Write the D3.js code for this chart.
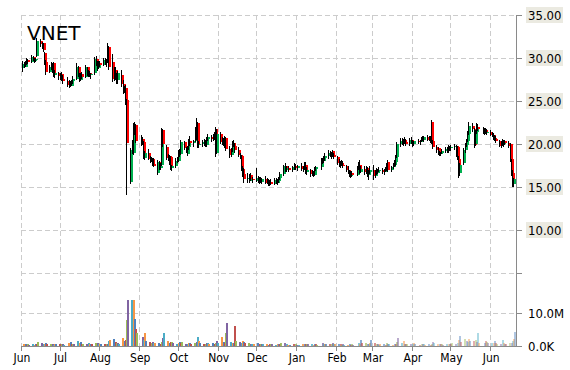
<!DOCTYPE html>
<html><head><meta charset="utf-8">
<script src="https://cdn.jsdelivr.net/npm/d3@7"></script>
<style>body{margin:0;background:#fff}svg{display:block}</style>
</head><body>
<svg id="c" width="570" height="370"></svg>
<script>
// rows: [day, open, high, low, close, volume (millions)]
const jun14 = [[2,28.8,29.6,28.4,29.3,0.7],[3,29.3,29.5,28.8,29.0,0.5],[4,29.0,29.7,28.9,29.5,0.4],[5,29.5,30.0,29.2,29.8,0.6],[6,29.8,29.9,29.3,29.5,0.4],[9,29.5,30.3,29.4,30.1,0.5],[10,30.1,30.2,29.6,29.7,0.4],[11,29.7,30.0,29.4,29.8,0.6],[12,29.8,30.0,29.5,29.9,0.5],[13,30.2,32.3,30.1,32.0,1.1],[16,32.0,32.2,31.3,31.6,0.8],[17,31.6,31.9,31.0,31.2,0.6],[18,31.7,31.8,30.7,30.9,0.7],[19,30.6,30.7,29.2,29.5,0.9],[20,29.5,29.8,28.0,28.4,0.6],[23,28.4,29.2,28.2,29.0,0.5],[24,29.0,29.5,28.6,28.9,0.6],[25,28.9,29.4,28.3,29.2,0.4],[26,29.4,29.5,27.8,28.0,0.7],[27,28.0,28.6,27.7,28.3,0.5],[30,28.3,28.4,27.5,27.9,0.6]];
const jul14 = [[1,27.7,28.3,27.5,28.1,0.5],[2,28.1,28.4,27.3,27.6,0.6],[3,27.6,28.0,27.0,27.3,0.3],[7,27.3,27.8,26.6,26.9,0.8],[8,26.9,27.4,26.5,27.1,1.3],[9,27.1,27.3,26.6,26.8,0.6],[10,26.8,27.5,26.7,27.3,0.5],[11,27.3,27.9,27.0,27.6,0.7],[14,27.6,29.4,27.4,29.0,1.6],[15,29.0,29.1,27.8,28.0,0.9],[16,28.0,28.2,27.2,27.5,1.2],[17,27.5,28.3,27.3,28.1,0.6],[18,28.1,28.4,27.6,27.8,0.7],[21,27.8,29.2,27.7,28.9,0.5],[22,28.9,29.0,27.9,28.1,0.9],[23,28.1,28.6,27.8,28.3,0.6],[24,28.3,28.5,27.8,28.0,0.5],[25,28.0,28.3,27.6,28.1,0.7],[28,28.2,30.1,28.0,29.9,1.0],[29,29.9,30.2,29.1,29.3,0.8],[30,29.3,29.6,28.5,28.8,0.5],[31,28.8,29.6,28.7,29.4,0.7]];
const aug14 = [[1,29.4,29.6,29.0,29.2,0.5],[4,29.2,30.0,29.1,29.8,0.6],[5,29.8,30.0,29.2,29.4,0.5],[6,29.4,29.9,29.0,29.6,0.7],[7,29.6,31.7,29.4,31.3,1.6],[8,31.3,31.4,28.6,29.0,1.8],[11,29.5,30.5,27.2,27.6,2.1],[12,27.6,29.0,27.3,28.6,1.3],[13,28.6,28.9,27.5,28.0,0.9],[14,28.0,28.3,27.0,27.4,0.8],[15,27.4,28.5,27.0,28.2,0.7],[18,28.0,28.6,26.6,27.0,2.3],[19,27.0,27.4,25.8,26.2,1.5],[20,26.2,26.8,25.9,26.5,1.9],[21,26.5,26.9,24.5,25.1,7.9],[22,25.1,25.2,14.1,20.1,13.9],[25,15.6,19.5,15.3,19.3,13.9],[26,19.3,20.5,18.8,20.2,13.9],[27,19.0,22.5,18.7,21.4,8.2],[28,21.4,22.6,21.0,22.2,5.2],[29,22.2,22.3,20.1,20.3,3.9]];
const sep14 = [[2,20.3,21.0,19.8,20.6,2.7],[3,20.6,20.8,19.9,20.1,1.8],[4,20.2,20.3,18.2,18.4,3.9],[5,18.4,19.2,18.1,18.9,1.5],[8,18.9,19.4,18.1,18.3,1.2],[9,18.3,18.6,17.8,18.1,0.9],[10,18.1,18.5,17.9,18.2,1.3],[11,18.2,18.4,17.5,17.7,0.8],[12,17.7,18.4,17.3,17.5,1.0],[15,16.6,18.1,16.4,17.9,0.9],[16,17.9,18.0,17.0,17.2,0.7],[17,17.2,17.8,17.0,17.5,1.1],[18,17.6,21.9,17.5,21.6,2.4],[19,21.6,21.8,19.7,20.0,3.9],[22,19.7,19.9,18.1,18.4,1.5],[23,18.4,18.8,18.0,18.6,0.8],[24,18.6,18.7,17.6,17.8,1.1],[25,18.5,18.6,17.0,17.2,1.2],[26,17.2,17.6,16.9,17.4,0.9],[29,17.4,18.4,17.2,18.0,0.7],[30,18.0,18.5,17.8,18.2,0.8]];
const oct14 = [[1,18.0,19.3,17.9,19.1,1.1],[2,19.1,19.4,18.5,18.8,0.8],[3,18.8,20.5,18.7,20.2,1.2],[6,20.2,20.4,19.3,19.5,0.7],[7,19.5,19.7,18.9,19.2,0.6],[8,18.8,19.8,18.6,19.6,0.9],[9,19.6,20.6,19.3,20.3,0.8],[10,20.3,20.9,19.8,20.1,0.7],[13,20.1,20.5,19.6,20.3,1.0],[14,20.3,22.0,20.2,21.6,1.3],[15,21.0,23.0,20.5,22.4,2.7],[16,22.4,22.6,19.5,19.9,1.5],[17,19.9,20.4,19.5,20.0,0.9],[20,20.0,20.5,19.6,20.2,0.7],[21,20.2,20.6,19.8,20.0,0.6],[22,20.0,20.5,19.7,20.3,0.8],[23,19.9,20.8,19.7,20.6,0.9],[24,20.6,21.2,20.3,20.8,0.6],[27,20.8,21.1,20.2,20.6,0.8],[28,20.6,21.2,20.4,21.0,0.7],[29,21.0,21.4,20.5,20.7,0.9],[30,21.8,22.0,18.5,18.9,1.5],[31,18.9,21.7,18.8,21.2,1.0]];
const nov14 = [[3,21.2,21.4,20.0,20.2,2.8],[4,20.2,20.8,19.9,20.5,1.2],[5,20.5,20.7,19.8,20.0,1.0],[6,19.7,20.9,19.5,20.7,3.9],[7,20.7,20.8,19.2,19.4,7.0],[10,19.4,19.8,18.4,18.7,1.2],[11,18.7,19.5,18.5,19.3,0.9],[12,19.3,20.4,19.1,20.1,0.8],[13,20.1,20.5,19.6,19.8,6.0],[14,19.8,20.1,19.0,19.3,1.6],[17,19.3,19.6,18.5,18.7,1.1],[18,18.7,19.0,18.3,18.6,0.9],[19,18.6,18.7,16.9,17.1,1.6],[20,17.1,17.4,16.2,16.5,1.3],[21,16.5,17.2,15.5,15.9,1.0],[24,15.9,16.6,15.5,16.1,0.8],[25,15.7,16.5,15.5,16.4,0.7],[26,16.4,16.6,15.7,15.9,0.6],[28,15.9,16.2,15.5,15.8,0.5]];
const dec14 = [[1,15.7,17.2,15.6,16.0,0.8],[2,16.0,16.3,15.5,15.8,0.6],[3,15.8,16.2,15.4,15.9,0.5],[4,15.9,16.2,15.5,15.6,0.7],[5,15.6,16.1,15.4,15.9,0.5],[8,15.9,16.3,15.4,15.5,0.6],[9,15.5,16.0,15.3,15.8,0.4],[10,15.8,15.9,15.1,15.3,0.5],[11,15.3,15.8,15.1,15.6,0.6],[12,15.6,15.9,15.2,15.4,0.5],[15,15.4,16.0,15.2,15.8,0.4],[16,15.8,16.1,15.3,15.5,0.6],[17,15.5,15.9,15.2,15.7,0.5],[18,15.7,16.2,15.5,16.0,0.7],[19,16.0,16.7,15.8,16.5,0.9],[22,16.5,17.6,16.3,17.4,0.8],[23,17.4,17.8,16.8,17.0,0.5],[24,17.0,17.4,16.8,17.2,0.3],[26,17.2,17.5,16.8,17.0,0.4],[29,17.0,17.5,16.7,17.3,0.6],[30,17.3,17.8,17.0,17.5,0.5],[31,17.5,17.7,17.0,17.2,0.4]];
const jan15 = [[2,17.2,17.6,16.9,17.4,0.4],[5,17.4,17.8,16.9,17.1,0.6],[6,17.1,17.5,16.8,17.3,0.5],[7,17.3,17.9,17.0,17.6,0.7],[8,17.6,17.9,16.5,16.8,0.5],[9,16.8,17.3,16.4,17.0,0.6],[12,17.0,17.1,16.2,16.5,0.5],[13,16.5,17.0,16.3,16.8,0.4],[14,16.8,16.9,16.2,16.4,0.6],[15,16.4,17.3,16.3,17.1,0.5],[16,17.1,17.5,16.9,17.3,0.4],[20,17.3,18.4,17.0,18.2,0.8],[21,18.2,18.4,17.7,18.0,0.6],[22,18.0,18.6,17.8,18.4,0.5],[23,18.4,18.9,18.0,18.6,0.7],[26,18.6,19.3,18.2,19.0,0.6],[27,19.0,19.2,18.5,18.7,0.5],[28,18.7,19.1,18.3,18.9,0.9],[29,19.2,19.3,18.5,18.7,0.6],[30,18.7,19.0,18.3,18.5,0.5]];
const feb15 = [[2,18.5,18.6,17.6,17.8,0.6],[3,17.8,18.2,17.3,17.5,0.5],[4,17.5,18.0,17.2,17.8,0.4],[5,17.8,18.1,17.4,17.6,0.5],[6,17.6,18.0,17.2,17.4,0.4],[9,17.4,17.6,16.8,17.0,0.3],[10,17.0,17.4,16.5,16.7,0.5],[11,16.9,17.0,16.2,16.3,0.4],[12,16.3,16.9,16.1,16.6,0.6],[13,16.6,16.9,16.2,16.4,0.4],[17,16.4,17.5,16.3,17.3,1.0],[18,17.3,17.9,17.0,17.6,0.7],[19,17.6,18.1,16.5,16.8,1.8],[20,16.8,17.4,16.6,17.1,0.8],[23,17.1,17.4,16.4,16.7,0.9],[24,16.7,17.5,16.5,17.2,0.6],[25,17.2,17.3,16.2,16.4,0.7],[26,16.4,17.0,15.8,16.8,1.0],[27,16.8,17.4,16.5,17.0,1.8]];
const mar15 = [[2,17.0,17.6,15.8,16.3,1.0],[3,16.3,17.0,16.1,16.8,0.6],[4,16.8,17.2,16.4,16.6,0.5],[5,16.6,17.1,16.5,16.9,0.4],[6,16.9,17.3,16.7,17.0,0.6],[9,17.0,17.2,16.5,16.7,0.5],[10,16.7,17.1,16.4,16.9,0.4],[11,16.9,17.3,16.7,17.1,0.9],[12,17.1,17.8,16.9,17.6,0.5],[13,17.9,18.1,16.7,17.0,0.7],[16,17.0,17.5,16.7,17.3,0.4],[17,17.3,17.8,17.1,17.6,0.5],[18,17.6,18.1,17.3,17.9,0.6],[19,17.9,18.7,17.5,18.5,1.2],[20,18.5,20.2,18.4,20.0,2.4],[23,20.0,20.7,19.7,20.4,0.8],[24,20.4,20.7,19.9,20.1,1.5],[25,20.1,20.6,19.8,20.5,0.6],[26,20.5,20.8,20.0,20.2,0.5],[27,20.2,20.6,19.8,20.0,0.5],[30,20.0,20.7,19.8,20.5,0.6],[31,20.5,20.8,20.0,20.2,0.5]];
const apr15 = [[1,20.2,20.5,19.7,20.0,0.8],[2,20.0,20.4,19.8,20.3,0.5],[6,20.3,20.6,20.0,20.2,0.4],[7,20.2,20.5,19.9,20.4,0.5],[8,20.4,20.8,20.2,20.6,0.6],[9,20.6,20.9,20.3,20.5,0.5],[10,20.5,20.9,20.2,20.8,0.4],[13,20.8,21.0,20.3,20.5,0.5],[14,20.5,20.9,20.3,20.7,0.4],[15,20.7,20.9,20.1,20.3,0.6],[16,22.6,22.8,20.0,20.3,1.2],[17,20.3,20.5,19.4,19.7,0.9],[20,19.7,19.9,19.0,19.3,0.6],[21,19.5,19.6,18.7,18.9,0.5],[22,18.9,19.2,18.6,18.8,0.5],[23,18.8,19.1,18.6,19.0,0.6],[24,19.0,19.4,18.8,19.2,0.4],[27,19.2,19.6,18.9,19.4,0.5],[28,19.4,19.7,19.0,19.2,0.6],[29,19.2,19.9,19.0,19.6,0.7],[30,19.6,19.8,19.2,19.5,0.6]];
const may15 = [[1,19.5,19.9,19.2,19.7,0.8],[4,19.7,20.0,19.3,19.8,0.6],[5,19.8,19.9,18.5,18.7,1.0],[6,19.6,19.8,18.1,18.3,1.8],[7,18.3,18.6,16.1,16.6,3.0],[8,16.6,17.8,16.3,17.6,1.2],[11,17.8,19.5,17.6,19.3,2.0],[12,19.3,20.1,19.0,19.9,1.5],[13,19.9,20.6,19.6,20.4,1.2],[14,20.4,21.5,20.2,21.2,2.2],[15,21.2,22.6,21.0,22.1,1.6],[18,22.1,22.5,21.4,21.7,1.4],[19,21.7,21.9,19.5,19.9,1.8],[20,20.0,21.6,19.8,21.4,1.2],[21,21.4,22.4,21.2,22.0,3.8],[22,22.0,22.3,21.5,21.8,1.0],[26,21.8,22.0,21.2,21.5,0.9],[27,21.5,21.9,21.1,21.6,1.4],[28,21.6,21.9,21.2,21.3,1.1],[29,21.3,21.7,21.0,21.4,0.8]];
const jun15 = [[1,21.4,21.6,20.9,21.1,0.9],[2,21.1,21.4,20.8,21.0,0.8],[3,21.0,21.3,20.5,20.7,1.4],[4,20.7,21.0,20.3,20.6,1.0],[5,20.6,20.9,20.1,20.3,0.7],[8,20.3,20.5,19.6,19.8,0.6],[9,19.8,20.4,19.5,20.2,1.8],[10,20.2,20.6,19.8,20.0,1.0],[11,20.0,20.5,19.7,20.3,0.7],[12,20.3,20.5,19.9,20.1,0.6],[15,20.1,20.3,19.5,19.8,0.8],[16,20.0,20.1,17.9,18.2,1.0],[17,18.2,18.3,16.3,16.6,1.6],[18,16.6,17.0,15.0,15.3,2.0],[19,15.3,16.1,15.0,15.9,4.2]];

const monthRows = [[2014,5,jun14],[2014,6,jul14],[2014,7,aug14],[2014,8,sep14],[2014,9,oct14],[2014,10,nov14],[2014,11,dec14],[2015,0,jan15],[2015,1,feb15],[2015,2,mar15],[2015,3,apr15],[2015,4,may15],[2015,5,jun15]];
const priceTicks = [35, 30, 25, 20, 15, 10, 5];
const priceLabels = ["35.00", "30.00", "25.00", "20.00", "15.00", "10.00"];
const volTicks = [10, 0];
const volLabels = ["10.0M", "0.0K"];
const monthLabels = ["Jun","Jul","Aug","Sep","Oct","Nov","Dec","Jan","Feb","Mar","Apr","May","Jun"];
const palette = ["#4F81BD","#C0504D","#9BBB59","#8064A2","#4BACC6","#F79646"];

const data = [];
monthRows.forEach(([yr, mo, rows]) => rows.forEach(r => data.push({
  date: new Date(yr, mo, r[0]), o: r[1], h: r[2], l: r[3], c: r[4], v: r[5]})));

const svg = d3.select("#c");
const FONT = "'DejaVu Sans Condensed','DejaVu Sans',sans-serif";
const x = d3.scaleTime().domain([new Date(2014,5,1), new Date(2015,5,21)]).range([21, 516]);
const y = d3.scaleLinear().domain([5, 35]).range([273, 15]);
const yv = d3.scaleLinear().domain([0, 10]).range([346, 313]);
const monthTicks = d3.timeMonth.range(new Date(2014,5,1), new Date(2015,5,2));

// grid
const grid = svg.append("g").attr("stroke", "#cccccc").attr("stroke-dasharray", "5,3").attr("stroke-width", 1);
grid.selectAll("line.v").data(monthTicks).join("line")
  .attr("x1", d => Math.round(x(d)) + 0.5).attr("x2", d => Math.round(x(d)) + 0.5)
  .attr("y1", 15).attr("y2", 346);
grid.selectAll("line.h").data(priceTicks.map(p => y(p)).concat([yv(10)])).join("line")
  .attr("class", "h")
  .attr("x1", 21).attr("x2", 516)
  .attr("y1", d => Math.round(d) + 0.5).attr("y2", d => Math.round(d) + 0.5);

// volume bars
const fade = d3.scaleLinear().domain([new Date(2014,10,20), new Date(2015,3,15)]).range([1, 0.45]).clamp(true);
svg.append("g").attr("shape-rendering", "crispEdges").selectAll("rect").data(data).join("rect")
  .attr("x", d => Math.round(x(d.date)) + 1)
  .attr("width", 1.5)
  .attr("y", d => yv(d.v))
  .attr("height", d => yv(0) - yv(d.v))
  .attr("fill", (d, i) => palette[(i + 5) % palette.length])
  .attr("fill-opacity", d => fade(d.date));

// candles
const cg = svg.append("g").attr("shape-rendering", "crispEdges");
cg.selectAll("rect.b").data(data).join("rect").attr("class", "b")
  .attr("x", d => Math.round(x(d.date)) + 1)
  .attr("width", 2)
  .attr("y", d => y(Math.max(d.o, d.c)))
  .attr("height", d => Math.max(1, Math.abs(y(d.o) - y(d.c))))
  .attr("fill", d => d.c >= d.o ? "#00b050" : "#ff0000");
cg.selectAll("rect.w").data(data).join("rect").attr("class", "w")
  .attr("x", d => Math.round(x(d.date)))
  .attr("width", 1)
  .attr("y", d => y(d.h))
  .attr("height", d => Math.max(1, y(d.l) - y(d.h)))
  .attr("fill", "#000");

// right axis
const ax = svg.append("g").attr("stroke", "#8a8a8a").attr("shape-rendering", "crispEdges");
ax.append("line").attr("x1", 516.5).attr("x2", 516.5).attr("y1", 15).attr("y2", 347);
ax.selectAll("line.t").data(priceTicks.map(p => y(p)).concat(volTicks.map(v => yv(v)))).join("line")
  .attr("class", "t").attr("x1", 516).attr("x2", 522)
  .attr("y1", d => Math.round(d) + 0.5).attr("y2", d => Math.round(d) + 0.5);
// bottom axis
ax.append("line").attr("x1", 21).attr("x2", 517).attr("y1", 346.5).attr("y2", 346.5);
ax.selectAll("line.m").data(monthTicks).join("line").attr("class", "m")
  .attr("x1", d => Math.round(x(d)) + 0.5).attr("x2", d => Math.round(x(d)) + 0.5)
  .attr("y1", 346).attr("y2", 351);

// price labels with background
const pl = svg.append("g");
priceLabels.forEach((t, i) => {
  const yy = y(priceTicks[i]);
  pl.append("rect").attr("x", 526).attr("y", yy - 8).attr("width", 37).attr("height", 16).attr("fill", "#ebeae1");
  pl.append("text").attr("x", 528).attr("y", yy).attr("dy", "0.36em")
    .attr("font-family", FONT).attr("font-size", 13).attr("fill", "#000").text(t);
});
volLabels.forEach((t, i) => {
  svg.append("text").attr("x", 528).attr("y", yv(volTicks[i])).attr("dy", "0.36em")
    .attr("font-family", FONT).attr("font-size", 13).attr("fill", "#000").text(t);
});
// month labels
svg.append("g").selectAll("text").data(monthTicks).join("text")
  .attr("x", d => x(d) + 1).attr("y", 362)
  .attr("text-anchor", "middle").attr("font-family", FONT).attr("font-size", 12)
  .attr("fill", "#000").text((d, i) => monthLabels[i]);

// title
svg.append("text").attr("x", 27).attr("y", 40).attr("font-family", "'DejaVu Sans',sans-serif")
  .attr("font-size", 20).attr("fill", "#000").text("VNET");
</script>
</body></html>
